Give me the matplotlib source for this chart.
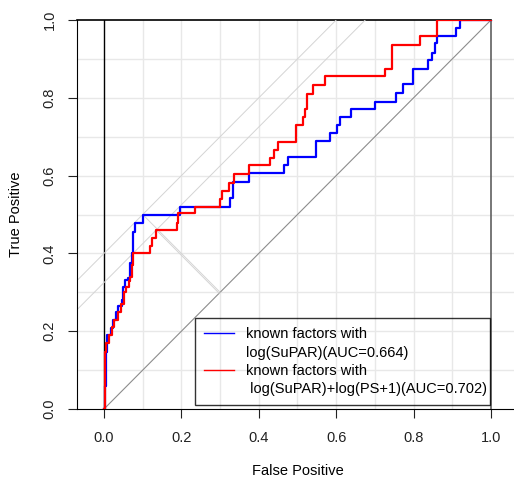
import numpy as np
import matplotlib
matplotlib.use("Agg")
import matplotlib.pyplot as plt

plt.rcParams['font.family'] = ['Liberation Sans', 'DejaVu Sans']

# ROC step corners (fpr, tpr after each rise)
fpr_known = [0.0, 0.003, 0.005, 0.008, 0.019, 0.024, 0.030, 0.036, 0.047, 0.049,
             0.055, 0.061, 0.068, 0.072, 0.076, 0.081, 0.100, 0.196, 0.326, 0.334,
             0.375, 0.465, 0.476, 0.548, 0.584, 0.603, 0.611, 0.637, 0.700, 0.754,
             0.773, 0.799, 0.838, 0.847, 0.855, 0.860, 0.910, 0.920, 1.0]
tpr_known = [0.0, 0.060, 0.147, 0.190, 0.208, 0.229, 0.250, 0.265, 0.280, 0.314,
             0.332, 0.338, 0.375, 0.400, 0.455, 0.478, 0.500, 0.520, 0.542, 0.584,
             0.607, 0.627, 0.649, 0.690, 0.709, 0.730, 0.751, 0.770, 0.790, 0.813,
             0.835, 0.873, 0.897, 0.916, 0.940, 0.959, 0.979, 1.0, 1.0]

fpr_ps = [0.0, 0.002, 0.005, 0.012, 0.020, 0.027, 0.036, 0.045, 0.052, 0.058,
          0.065, 0.068, 0.072, 0.076, 0.118, 0.124, 0.135, 0.189, 0.192, 0.235,
          0.300, 0.305, 0.323, 0.336, 0.375, 0.429, 0.440, 0.450, 0.496, 0.513,
          0.520, 0.525, 0.539, 0.571, 0.726, 0.743, 0.817, 0.860, 1.0]
tpr_ps = [0.0, 0.147, 0.170, 0.190, 0.210, 0.230, 0.250, 0.270, 0.300, 0.314,
          0.330, 0.340, 0.370, 0.400, 0.420, 0.440, 0.460, 0.478, 0.503, 0.520,
          0.540, 0.560, 0.580, 0.605, 0.627, 0.645, 0.665, 0.687, 0.730, 0.750,
          0.771, 0.810, 0.833, 0.856, 0.873, 0.936, 0.959, 1.0, 1.0]

# best cutoff point of each curve
opt_known = (0.100, 0.500)
opt_ps = (0.135, 0.460)

legend_labels = ["known factors with", "log(SuPAR)(AUC=0.664)",
                 "known factors with", " log(SuPAR)+log(PS+1)(AUC=0.702)"]

fig = plt.figure(figsize=(5.14, 4.79), dpi=100)
ax = fig.add_axes([77 / 514, 70 / 479, 441 / 514, 389 / 479])
ax.set_xlim(-0.0698, 1.0698)
ax.set_ylim(0, 1)

ticks = np.arange(0.1, 1.0, 0.1)
for t in ticks:
    ax.axvline(t, color='#e8e8e8', lw=1, zorder=0)
    ax.axhline(t, color='#e8e8e8', lw=1, zorder=0)

ax.plot([0, 1], [0, 1], color='#8c8c8c', lw=0.8, zorder=1)
ax.axvline(0, color='black', lw=1, zorder=1)
ax.axvline(1, color='#606060', lw=1.2, zorder=1)
ax.plot([-0.0698, 1], [1, 1], color='black', lw=1.2, zorder=1, clip_on=False)

for ox, oy in [opt_known, opt_ps]:
    ax.axline((ox, oy), slope=1, color='#d4d4d4', lw=0.7, zorder=1)
    foot = (ox + oy) / 2
    ax.plot([ox, foot], [oy, foot], color='#d4d4d4', lw=0.7, zorder=1)

ax.plot(fpr_known, tpr_known, drawstyle='steps-post', color='#0000ff', lw=1.6, zorder=3)
ax.plot(fpr_ps, tpr_ps, drawstyle='steps-post', color='#ff0000', lw=1.6, zorder=4)

h1, = ax.plot([], [], color='#0000ff', lw=1)
h2, = ax.plot([], [], color='none', lw=1)
h3, = ax.plot([], [], color='#ff0000', lw=1)
h4, = ax.plot([], [], color='none', lw=1)
leg = ax.legend([h1, h2, h3, h4], legend_labels, loc='lower left',
                bbox_to_anchor=(0.235, 0.01, 0.762, 0.3), bbox_transform=ax.transData,
                mode='expand', borderaxespad=0, fontsize=10.5, handlelength=2.1,
                handletextpad=0.8, labelspacing=0.3, borderpad=0.6,
                fancybox=False)
frame = leg.get_frame()
frame.set_facecolor('none')
frame.set_edgecolor('black')
frame.set_linewidth(1)

ax.set_xticks([0, 0.2, 0.4, 0.6, 0.8, 1.0])
ax.set_xticklabels(['0.0', '0.2', '0.4', '0.6', '0.8', '1.0'])
ax.set_yticks([0, 0.2, 0.4, 0.6, 0.8, 1.0])
ax.set_yticklabels(['0.0', '0.2', '0.4', '0.6', '0.8', '1.0'], rotation=90, va='center')
ax.tick_params(axis='both', length=6.5, width=0.8, labelsize=10.5, colors='#222222')
ax.tick_params(axis='x', pad=9)
ax.tick_params(axis='y', pad=8)

ax.spines['right'].set_visible(False)
ax.spines['top'].set_visible(False)
for s in ['left', 'bottom']:
    ax.spines[s].set_linewidth(0.8)

ax.set_xlabel('False Positive', fontsize=10.5, labelpad=14)
ax.set_ylabel('True Positive', fontsize=10.5, labelpad=14)

fig.savefig('out.png', dpi=100)
